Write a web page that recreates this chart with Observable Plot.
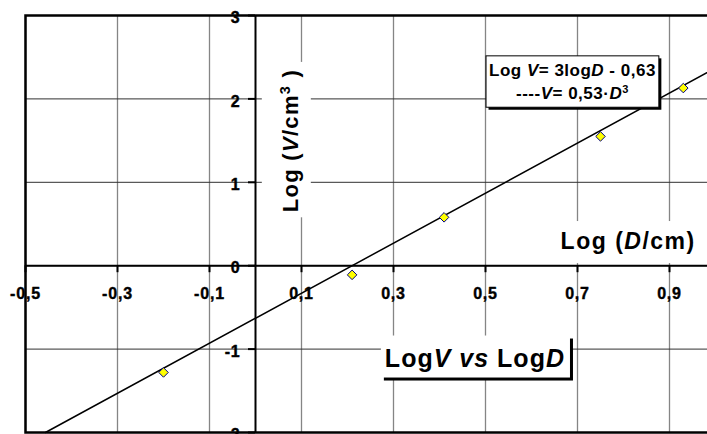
<!DOCTYPE html>
<html>
<head>
<meta charset="utf-8">
<script src="https://cdn.jsdelivr.net/npm/d3@7"></script>
<script src="https://cdn.jsdelivr.net/npm/@observablehq/plot@0.6"></script>
<style>
  body { margin: 0; background: #fff; }
  #chart { width: 707px; height: 434px; overflow: hidden; }
</style>
</head>
<body>
<div id="chart"></div>
<script>
// Measured pairs: log of diameter (cm) and log of volume (cm³)
const logD = [-0.20, 0.21, 0.41, 0.75, 0.93];
const logV = [-1.28, -0.11, 0.58, 1.55, 2.13];

// Straight-line fit, as printed in the equation box
const fitSlope = 3;
const fitIntercept = -0.63;
const fitCoef = 0.53;

// Axis ticks
const xTicks = [-0.5, -0.3, -0.1, 0.1, 0.3, 0.5, 0.7, 0.9];
const yTicks = [-2, -1, 0, 1, 2, 3];

// Labels; _text_ is italic, ^text^ is a superscript
const xLabel = "Log (_D_/cm)";
const yLabel = "Log (_V_/cm^3^ )";
const chartTitle = "Log_V_ _vs_ Log_D_";

const comma = d => String(d).replace(".", ",");
const fitLines = [
  `Log _V_= ${fitSlope}log_D_ - ${comma(-fitIntercept)}`,
  `----_V_= ${comma(fitCoef)}·_D_^3^`
];

const xDomain = [-0.5, 1];
const yDomain = [-2, 3];

const points = logD.map((x, i) => ({x, y: logV[i]}));

// The fitted line, clipped to where it crosses the frame
const fitAt = x => fitSlope * x + fitIntercept;
const fitEnds = [
  Math.max(xDomain[0], (yDomain[0] - fitIntercept) / fitSlope),
  Math.min(xDomain[1], (yDomain[1] - fitIntercept) / fitSlope)
];
const fitLine = fitEnds.map(x => ({x, y: fitAt(x)}));

const font = "'Liberation Sans', Arial, Helvetica, sans-serif";

const plot = Plot.plot({
  width: 720,
  height: 434,
  marginLeft: 25,
  marginRight: 5,
  marginTop: 15,
  marginBottom: 2,
  x: {domain: xDomain, axis: null},
  y: {domain: yDomain, axis: null},
  style: {fontFamily: font, fontWeight: "bold", background: "white", color: "black", letterSpacing: "0.8px", maxWidth: "none", height: "434px"},
  marks: [
    // grid
    Plot.ruleX(xTicks, {x: d => d, stroke: "#858585", strokeWidth: 1.3}),
    Plot.ruleY(yTicks, {y: d => d, stroke: "#303030", strokeWidth: 1}),
    // axes through the origin
    Plot.ruleY([0], {y: d => d, stroke: "black", strokeWidth: 2}),
    Plot.ruleX([0], {x: d => d, stroke: "black", strokeWidth: 2}),
    // tick marks
    Plot.ruleX(xTicks, {x: d => d, y1: 0, y2: 0, insetBottom: -7, stroke: "black", strokeWidth: 2}),
    Plot.ruleY(yTicks, {y: d => d, x1: 0, x2: 0, insetLeft: -7, stroke: "black", strokeWidth: 2}),
    // tick labels
    Plot.text(xTicks, {x: d => d, y: 0, text: comma, dy: 28, fontSize: 16, fontWeight: "bold", fill: "black", stroke: "black", strokeWidth: 0.4}),
    Plot.text(yTicks, {x: 0, y: d => d, text: comma, textAnchor: "end", dx: -15, dy: 2.5, fontSize: 16, fontWeight: "bold", fill: "black", stroke: "black", strokeWidth: 0.4}),
    // fit and measurements
    Plot.line(fitLine, {x: "x", y: "y", stroke: "black", strokeWidth: 1.5}),
    Plot.dot(points, {x: "x", y: "y", symbol: "diamond2", r: 4.3, fill: "#ffff00", stroke: "#000080", strokeWidth: 1}),
    Plot.frame({stroke: "black", strokeWidth: 2.5}),
    // annotations
    Plot.text([yLabel], {x: 0.0767, y: 1.5, text: d => d, rotate: -90, fontSize: 22, fontWeight: "bold"}),
    Plot.text([xLabel], {x: 0.957, y: 0.288, text: d => d, textAnchor: "end", fontSize: 23, fontWeight: "bold"}),
    Plot.text([chartTitle], {x: 0.477, y: -1.113, text: d => d, fontSize: 25, fontWeight: "bold"}),
    Plot.text([fitLines.join("\n")], {x: 0.689, y: 2.226, text: d => d, fontSize: 17, lineHeight: 1.376, fontWeight: "bold"})
  ]
});

document.getElementById("chart").appendChild(plot);

const ns = "http://www.w3.org/2000/svg";

// Turn _italic_ and ^superscript^ markup into styled runs
function styleRuns(node) {
  const raw = node.textContent;
  if (!/[_^]/.test(raw)) return;
  node.textContent = "";
  for (const part of raw.split(/(_[^_]*_|\^[^^]*\^)/)) {
    if (!part) continue;
    const ts = document.createElementNS(ns, "tspan");
    if (part[0] === "_") {
      ts.setAttribute("font-style", "italic");
      ts.textContent = part.slice(1, -1);
    } else if (part[0] === "^") {
      ts.setAttribute("baseline-shift", "super");
      ts.setAttribute("font-size", "0.65em");
      ts.textContent = part.slice(1, -1);
    } else {
      ts.textContent = part;
    }
    node.appendChild(ts);
  }
}

// Background boxes behind the annotation texts; pad = [top, right, bottom, left] in text space
const boxes = new Map([
  [yLabel, {pad: [15, 7, 8, 5], spacing: 1.3}],
  [xLabel, {pad: [7, 20, 9, 5], spacing: 1.5}],
  [chartTitle, {pad: [8, 5, 6, 4], spacing: 1, shadow: 3}],
  [fitLines.join(""), {pad: [5, 3, 4, 3], spacing: 0.5, stroke: "black", shadow: 2.5}]
]);

for (const t of plot.querySelectorAll("text")) {
  const spec = boxes.get(t.textContent);
  const lines = t.querySelectorAll("tspan");
  if (lines.length) lines.forEach(styleRuns); else styleRuns(t);
  if (!spec) continue;
  t.setAttribute("letter-spacing", spec.spacing);
  const b = t.getBBox();
  const [pt, pr, pb, pl] = spec.pad;
  const rect = (dx, dy, fill, stroke) => {
    const r = document.createElementNS(ns, "rect");
    r.setAttribute("x", b.x - pl + dx);
    r.setAttribute("y", b.y - pt + dy);
    r.setAttribute("width", b.width + pl + pr);
    r.setAttribute("height", b.height + pt + pb);
    r.setAttribute("fill", fill);
    r.setAttribute("stroke", stroke || "none");
    r.setAttribute("stroke-width", 1);
    const tr = t.getAttribute("transform");
    if (tr) r.setAttribute("transform", tr);
    t.parentNode.insertBefore(r, t);
  };
  if (spec.shadow) rect(spec.shadow, spec.shadow, "black", null);
  rect(0, 0, "white", spec.stroke);
}
</script>
</body>
</html>
